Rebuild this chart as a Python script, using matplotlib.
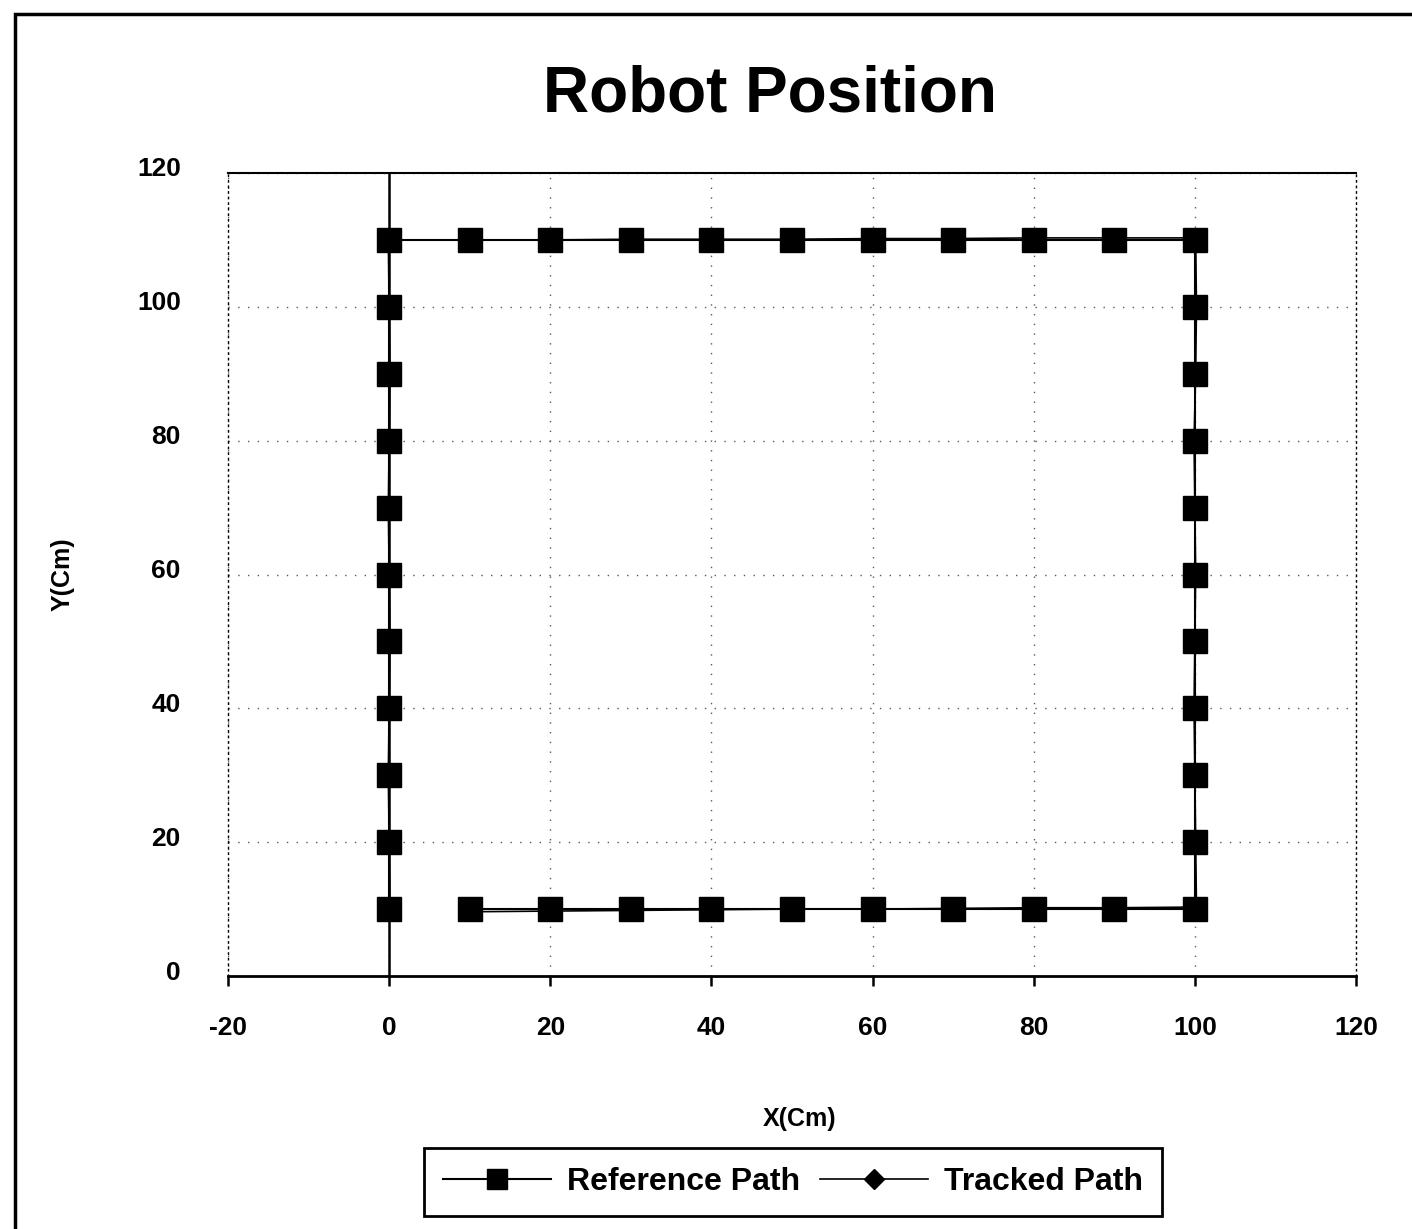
import numpy as np
import matplotlib
matplotlib.use('Agg')
import matplotlib.pyplot as plt
import matplotlib.patches as patches
import matplotlib.transforms as mtransforms

plt.rcParams.update({'font.family': 'Liberation Sans', 'font.weight': 'bold',
                     'axes.labelweight': 'bold', 'axes.unicode_minus': False})

# reference path: up the left side, across the top, down the right, back along the bottom
ref_x = [0, 0, 0, 0, 0, 0, 0, 0, 0, 0, 0,
         10, 20, 30, 40, 50, 60, 70, 80, 90, 100,
         100, 100, 100, 100, 100, 100, 100, 100, 100, 100,
         90, 80, 70, 60, 50, 40, 30, 20, 10]
ref_y = [10, 20, 30, 40, 50, 60, 70, 80, 90, 100, 110,
         110, 110, 110, 110, 110, 110, 110, 110, 110, 110,
         100, 90, 80, 70, 60, 50, 40, 30, 20, 10,
         10, 10, 10, 10, 10, 10, 10, 10, 10]

# tracked path (almost on top of the reference)
trk_x = [0.1, 0.0, -0.1, 0.0, 0.1, 0.0, -0.1, 0.0, 0.1, 0.0, -0.1,
         10, 20, 30, 40, 50, 60, 70, 80, 90, 100.1,
         100.2, 100.1, 99.9, 100.0, 100.1, 100.0, 99.9, 100.0, 100.1, 100.2,
         90, 80, 70, 60, 50, 40, 30, 20, 10]
trk_y = [10.1, 20.0, 30.1, 40.0, 50.1, 60.0, 70.1, 80.0, 90.1, 100.0, 110.0,
         110.0, 110.0, 110.1, 110.1, 110.1, 110.2, 110.2, 110.3, 110.3, 110.3,
         100.1, 90.0, 80.1, 70.0, 60.1, 50.0, 40.1, 30.0, 20.1, 10.3,
         10.2, 10.2, 10.1, 10.0, 10.0, 9.9, 9.8, 9.7, 9.6]

fig = plt.figure(figsize=(14.12, 12.29), dpi=100)
ax = fig.add_axes([228 / 1412, 1 - 976 / 1229, 1128 / 1412, 803 / 1229])

ax.plot(ref_x, ref_y, color='black', lw=1.5, marker='s', ms=17,
        label='Reference Path', zorder=3)
ax.plot(trk_x, trk_y, color='black', lw=1.2, marker='D', ms=7,
        label='Tracked Path', zorder=4)

ax.set_xlim(-20, 120)
ax.set_ylim(0, 120)
ax.set_xticks(range(-20, 121, 20))
ax.set_yticks(range(0, 121, 20))

# y axis crosses at x = 0
ax.axvline(0, color='black', lw=1.8, zorder=2)

ax.grid(True, color='0.35', linestyle=(0, (1, 6)), lw=1)
for s in ['left', 'right']:
    ax.spines[s].set_linestyle((0, (1, 3)))
    ax.spines[s].set_linewidth(1)
ax.spines['top'].set_linewidth(1.5)
ax.spines['bottom'].set_linewidth(2)

ax.tick_params(axis='x', direction='out', length=7, width=1.8, pad=22, labelsize=19)
ax.tick_params(axis='y', length=0, pad=34, labelsize=19)
offset = mtransforms.ScaledTranslation(0, 6 / 100, fig.dpi_scale_trans)
for lbl in ax.get_yticklabels():
    lbl.set_transform(lbl.get_transform() + offset)

ax.set_xlabel('X(Cm)', fontsize=18)
ax.set_ylabel('Y(Cm)', fontsize=18)
ax.xaxis.set_label_coords(0.507, -0.163)
ax.yaxis.set_label_coords(-0.136, 0.5)

fig.text(770 / 1412, 1 - 95 / 1229, 'Robot Position', fontsize=46,
         ha='center', va='center', fontweight='bold')

leg = fig.legend(loc='center', bbox_to_anchor=(793 / 1412, 1 - 1182 / 1229),
                 ncol=2, fontsize=23, frameon=True, fancybox=False,
                 edgecolor='black', framealpha=1, handlelength=3.4,
                 columnspacing=0.6, handletextpad=0.5, borderpad=0.6)
leg.get_frame().set_linewidth(2)
hs = leg.legend_handles
hs[0].set_markersize(15)
hs[1].set_markersize(10)

# outer chart border
fig.patches.append(patches.Rectangle((15 / 1412, -0.01), 1.02, 1 - 14 / 1229 + 0.01,
                                     transform=fig.transFigure, fill=False,
                                     edgecolor='black', lw=2.5))

fig.savefig('out.png', dpi=100)
